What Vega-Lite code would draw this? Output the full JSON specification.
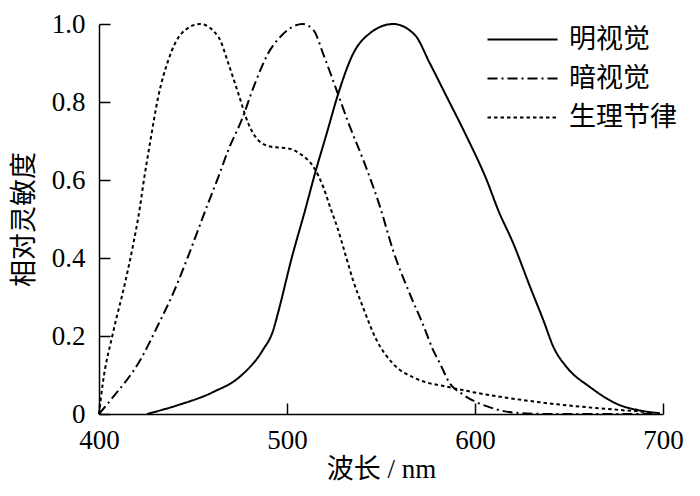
{
  "$schema": "https://vega.github.io/schema/vega-lite/v6.json",
  "width": 564,
  "height": 390,
  "autosize": "none",
  "padding": {"left": 99, "top": 24, "right": 37, "bottom": 82},
  "background": "white",
  "config": {
    "view": {"stroke": null},
    "font": "Liberation Serif, Noto Sans CJK SC",
    "axis": {
      "grid": false,
      "domainColor": "black",
      "domainWidth": 1.5,
      "tickColor": "black",
      "tickWidth": 1.5,
      "tickSize": -11,
      "labelColor": "black",
      "labelFlush": false,
      "titleColor": "black",
      "titleFontWeight": "normal"
    },
    "legend": {
      "labelFont": "Noto Sans CJK SC",
      "labelFontSize": 27,
      "labelColor": "black"
    }
  },
  "data": {
    "values": [
      {"wl": 425.5, "v": 0, "s": "明视觉"},
      {"wl": 441.5, "v": 0.022, "s": "明视觉"},
      {"wl": 460.6, "v": 0.056, "s": "明视觉"},
      {"wl": 475, "v": 0.096, "s": "明视觉"},
      {"wl": 487, "v": 0.163, "s": "明视觉"},
      {"wl": 492.6, "v": 0.214, "s": "明视觉"},
      {"wl": 495, "v": 0.255, "s": "明视觉"},
      {"wl": 502.5, "v": 0.4, "s": "明视觉"},
      {"wl": 509.6, "v": 0.522, "s": "明视觉"},
      {"wl": 514.9, "v": 0.617, "s": "明视觉"},
      {"wl": 521.1, "v": 0.719, "s": "明视觉"},
      {"wl": 527.3, "v": 0.822, "s": "明视觉"},
      {"wl": 535.3, "v": 0.925, "s": "明视觉"},
      {"wl": 544, "v": 0.976, "s": "明视觉"},
      {"wl": 556.5, "v": 1.0, "s": "明视觉"},
      {"wl": 568, "v": 0.972, "s": "明视觉"},
      {"wl": 576, "v": 0.899, "s": "明视觉"},
      {"wl": 585, "v": 0.813, "s": "明视觉"},
      {"wl": 595.6, "v": 0.711, "s": "明视觉"},
      {"wl": 606.2, "v": 0.6, "s": "明视觉"},
      {"wl": 612.4, "v": 0.522, "s": "明视觉"},
      {"wl": 620.4, "v": 0.437, "s": "明视觉"},
      {"wl": 629.3, "v": 0.326, "s": "明视觉"},
      {"wl": 636.4, "v": 0.24, "s": "明视觉"},
      {"wl": 641.7, "v": 0.172, "s": "明视觉"},
      {"wl": 648.8, "v": 0.12, "s": "明视觉"},
      {"wl": 661.2, "v": 0.069, "s": "明视觉"},
      {"wl": 675.4, "v": 0.026, "s": "明视觉"},
      {"wl": 687.8, "v": 0.009, "s": "明视觉"},
      {"wl": 698.4, "v": 0.002, "s": "明视觉"},
      {"wl": 400, "v": 0, "s": "暗视觉"},
      {"wl": 407.4, "v": 0.043, "s": "暗视觉"},
      {"wl": 421.8, "v": 0.137, "s": "暗视觉"},
      {"wl": 430.9, "v": 0.223, "s": "暗视觉"},
      {"wl": 439.4, "v": 0.309, "s": "暗视觉"},
      {"wl": 447.3, "v": 0.403, "s": "暗视觉"},
      {"wl": 457.3, "v": 0.531, "s": "暗视觉"},
      {"wl": 463.5, "v": 0.608, "s": "暗视觉"},
      {"wl": 468.8, "v": 0.677, "s": "暗视觉"},
      {"wl": 475.9, "v": 0.754, "s": "暗视觉"},
      {"wl": 483, "v": 0.848, "s": "暗视觉"},
      {"wl": 490, "v": 0.925, "s": "暗视觉"},
      {"wl": 497, "v": 0.97, "s": "暗视觉"},
      {"wl": 508.2, "v": 1.0, "s": "暗视觉"},
      {"wl": 514, "v": 0.985, "s": "暗视觉"},
      {"wl": 519.5, "v": 0.92, "s": "暗视觉"},
      {"wl": 526.4, "v": 0.83, "s": "暗视觉"},
      {"wl": 533.5, "v": 0.736, "s": "暗视觉"},
      {"wl": 540.6, "v": 0.651, "s": "暗视觉"},
      {"wl": 549.5, "v": 0.531, "s": "暗视觉"},
      {"wl": 556.4, "v": 0.42, "s": "暗视觉"},
      {"wl": 566, "v": 0.3, "s": "暗视觉"},
      {"wl": 572.3, "v": 0.23, "s": "暗视觉"},
      {"wl": 577.8, "v": 0.163, "s": "暗视觉"},
      {"wl": 581.4, "v": 0.129, "s": "暗视觉"},
      {"wl": 586.7, "v": 0.078, "s": "暗视觉"},
      {"wl": 593.6, "v": 0.05, "s": "暗视觉"},
      {"wl": 608, "v": 0.017, "s": "暗视觉"},
      {"wl": 622, "v": 0.003, "s": "暗视觉"},
      {"wl": 640, "v": 0, "s": "暗视觉"},
      {"wl": 698, "v": 0, "s": "暗视觉"},
      {"wl": 400, "v": 0, "s": "生理节律"},
      {"wl": 402, "v": 0.078, "s": "生理节律"},
      {"wl": 407.4, "v": 0.207, "s": "生理节律"},
      {"wl": 413.8, "v": 0.335, "s": "生理节律"},
      {"wl": 418, "v": 0.43, "s": "生理节律"},
      {"wl": 421.8, "v": 0.531, "s": "生理节律"},
      {"wl": 423.6, "v": 0.591, "s": "生理节律"},
      {"wl": 427.1, "v": 0.694, "s": "生理节律"},
      {"wl": 431.5, "v": 0.813, "s": "生理节律"},
      {"wl": 436.9, "v": 0.908, "s": "生理节律"},
      {"wl": 444, "v": 0.976, "s": "生理节律"},
      {"wl": 453.7, "v": 1.0, "s": "生理节律"},
      {"wl": 463.5, "v": 0.967, "s": "生理节律"},
      {"wl": 468.8, "v": 0.899, "s": "生理节律"},
      {"wl": 474.1, "v": 0.822, "s": "生理节律"},
      {"wl": 479.4, "v": 0.745, "s": "生理节律"},
      {"wl": 484.7, "v": 0.702, "s": "生理节律"},
      {"wl": 491.8, "v": 0.685, "s": "生理节律"},
      {"wl": 500.7, "v": 0.681, "s": "生理节律"},
      {"wl": 507, "v": 0.667, "s": "生理节律"},
      {"wl": 514, "v": 0.634, "s": "生理节律"},
      {"wl": 519.3, "v": 0.582, "s": "生理节律"},
      {"wl": 522.9, "v": 0.531, "s": "生理节律"},
      {"wl": 527, "v": 0.475, "s": "生理节律"},
      {"wl": 531, "v": 0.41, "s": "生理节律"},
      {"wl": 535, "v": 0.345, "s": "生理节律"},
      {"wl": 540.4, "v": 0.274, "s": "生理节律"},
      {"wl": 547.7, "v": 0.189, "s": "生理节律"},
      {"wl": 556.4, "v": 0.129, "s": "生理节律"},
      {"wl": 569, "v": 0.09, "s": "生理节律"},
      {"wl": 585, "v": 0.07, "s": "生理节律"},
      {"wl": 599, "v": 0.056, "s": "生理节律"},
      {"wl": 634.6, "v": 0.03, "s": "生理节律"},
      {"wl": 670, "v": 0.013, "s": "生理节律"},
      {"wl": 694.7, "v": 0.004, "s": "生理节律"}
    ]
  },
  "mark": {"type": "line", "interpolate": "monotone", "strokeWidth": 2, "color": "black"},
  "encoding": {
    "x": {
      "field": "wl",
      "type": "quantitative",
      "scale": {"domain": [400, 700], "nice": false, "zero": false},
      "axis": {
        "values": [400, 500, 600, 700],
        "title": "波长 / nm",
        "labelFont": "Liberation Serif",
        "labelFontSize": 27,
        "labelPadding": 24,
        "titleFont": "Liberation Serif, Noto Sans CJK SC",
        "titleFontSize": 27,
        "titlePadding": 3
      }
    },
    "y": {
      "field": "v",
      "type": "quantitative",
      "scale": {"domain": [0, 1], "nice": false},
      "axis": {
        "values": [0, 0.2, 0.4, 0.6, 0.8, 1.0],
        "labelExpr": "datum.value == 0 ? '0' : format(datum.value, '.1f')",
        "title": "相对灵敏度",
        "labelFont": "Liberation Serif",
        "labelFontSize": 27,
        "labelPadding": 25,
        "titleFont": "Noto Sans CJK SC",
        "titleFontSize": 27,
        "titlePadding": 13
      }
    },
    "strokeDash": {
      "field": "s",
      "type": "nominal",
      "scale": {
        "domain": ["明视觉", "暗视觉", "生理节律"],
        "range": [[1, 0], [10, 4, 2, 4], [3.5, 3]]
      },
      "legend": {
        "title": null,
        "orient": "none",
        "legendX": 410,
        "legendY": 2,
        "symbolType": "M-3.5,0H3.5",
        "symbolSize": 400,
        "symbolStrokeWidth": 2,
        "symbolStrokeColor": "black",
        "symbolFillColor": "transparent",
        "labelOffset": 33,
        "rowPadding": 11
      }
    }
  }
}
